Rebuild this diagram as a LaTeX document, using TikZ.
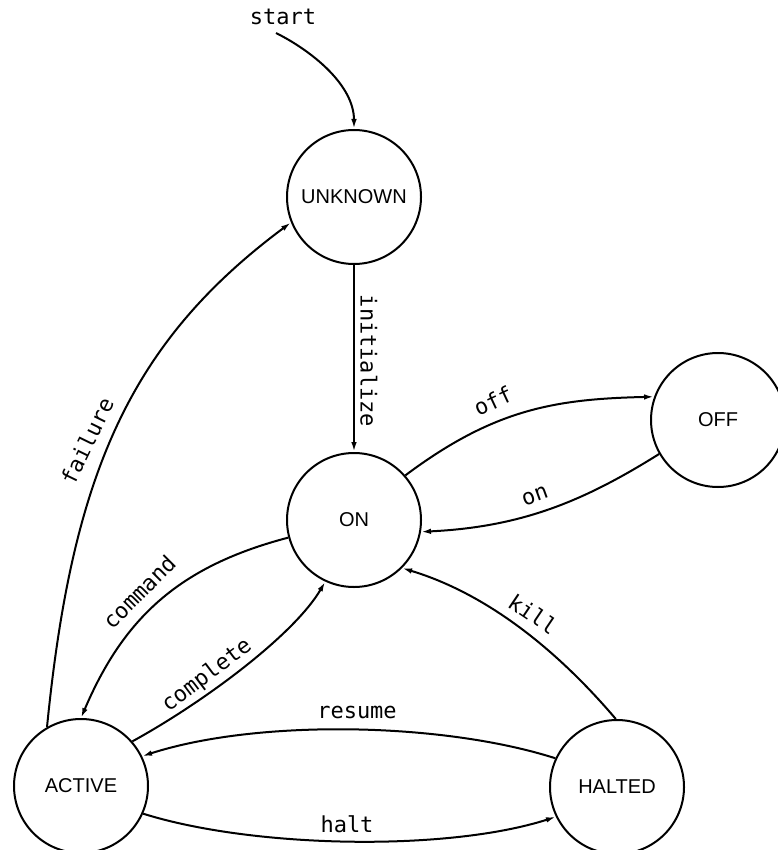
\documentclass[tikz,border=0pt]{standalone}
\usepackage{fontspec}
\setmainfont{Liberation Sans}
\newfontfamily\edgefont{DejaVu Sans Mono}
\usetikzlibrary{arrows.meta}
\begin{document}
\begin{tikzpicture}[x=1pt,y=-1pt,
  state/.style={draw, circle, line width=2pt, minimum size=134pt, inner sep=0pt,
    font=\fontsize{20}{22}\selectfont},
  trans/.style={line width=2pt, -{Latex[length=10pt,width=5.5pt]}},
  lbl/.style={font=\edgefont\fontsize{22}{24}\selectfont, inner sep=0pt}]
\useasboundingbox (0,0) rectangle (777,850);

% states
\node[state] (unk) at (354,197) {UNKNOWN};
\node[state] (on)  at (354,520) {ON};
\node[state] (off) at (718,420) {OFF};
\node[state] (act) at (81,786)  {ACTIVE};
\node[state] (hal) at (617,787) {HALTED};

% initial transition
\node[lbl] (start) at (283,17) {start};
\coordinate (s0) at (276,33);
\draw[trans] (s0) .. controls (312,51) and (354,85) .. (unk.north);

% transitions
\draw[trans] (unk.south) -- (on.north);
\draw[trans] (act.120) .. controls (72,475) and (129,343) .. (unk.202);
\draw[trans] (on.41) .. controls (494,409) and (555,399) .. (off.160);
\draw[trans] (off.210) .. controls (584,501) and (522,527) .. (on.350);
\draw[trans] (hal.91) .. controls (558,651) and (488,594) .. (on.315);
\draw[trans] (hal.155) .. controls (442,722) and (257,719) .. (act.26);
\draw[trans] (act.336) .. controls (252,848) and (446,852) .. (hal.206);
\draw[trans] (on.195) .. controls (180,566) and (124,617) .. (act.90);
\draw[trans] (act.41) .. controls (204,702) and (294,635) .. (on.245);

% transition labels
\node[lbl, rotate=-90] (linit) at (369,361) {initialize};
\node[lbl, rotate=64]  (lfail) at (87,441)  {failure};
\node[lbl, rotate=25]  (loff)  at (493,401) {off};
\node[lbl, rotate=20]  (lon)   at (535,496) {on};
\node[lbl, rotate=-34] (lkill) at (533,614) {kill};
\node[lbl, rotate=45]  (lcmd)  at (139,592) {command};
\node[lbl, rotate=37]  (lcomp) at (207,676) {complete};
\node[lbl]             (lres)  at (357,712) {resume};
\node[lbl]             (lhalt) at (347,824) {halt};
\end{tikzpicture}
\end{document}
